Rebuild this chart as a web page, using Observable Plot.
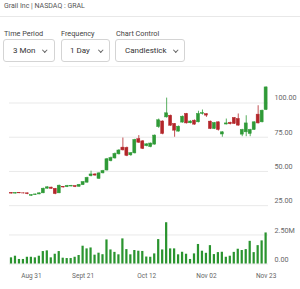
<!DOCTYPE html>
<html><head><meta charset="utf-8">
<script src="https://cdn.jsdelivr.net/npm/d3@7"></script>
<script src="https://cdn.jsdelivr.net/npm/@observablehq/plot@0.6"></script>
<style>
body{margin:0;width:300px;height:289px;overflow:hidden;background:#fff;font-family:Roboto,"Noto Sans",sans-serif;position:relative}
.title{position:absolute;left:4px;top:2px;font-size:7px;color:#555;white-space:nowrap}
.sep{position:absolute;left:0;top:16px;width:300px;border-top:1px solid #e8e8e8}
.sep2{position:absolute;left:9px;top:66px;width:291px;border-top:1px solid #f2f2f2}
.lbl{position:absolute;top:29px;font-size:7.3px;color:#444;white-space:nowrap}
.box{position:absolute;top:39px;height:23px;border:1px solid #d4d4d4;border-radius:3px;box-sizing:border-box;font-size:8px;color:#333;line-height:21px;white-space:nowrap}
.box span.t{position:absolute;top:0}
.chev{position:absolute;top:8px;width:2.5px;height:2.5px;border-right:1px solid #666;border-bottom:1px solid #666;transform:rotate(45deg)}
#price{position:absolute;left:0;top:70px}
#vol{position:absolute;left:0;top:215px}
</style></head>
<body>
<div class="title">Grail Inc | NASDAQ : GRAL</div>
<div class="sep"></div>
<div class="lbl" style="left:4px">Time Period</div>
<div class="lbl" style="left:61px">Frequency</div>
<div class="lbl" style="left:116px">Chart Control</div>
<div class="box" style="left:3px;width:52px"><span class="t" style="left:9px">3 Mon</span><span class="chev" style="left:39px"></span></div>
<div class="box" style="left:61px;width:49px"><span class="t" style="left:8px">1 Day</span><span class="chev" style="left:37px"></span></div>
<div class="box" style="left:115px;width:70px"><span class="t" style="left:9px">Candlestick</span><span class="chev" style="left:58px"></span></div>
<div class="sep2"></div>
<div id="price"></div>
<div id="vol"></div>
<script>
// Daily OHLC (USD) and volume (millions), trading days Aug 22 – Nov 21
const open  = [34.3,33.8,34.2,34.0,34.0,32.2,32.7,33.2,34.0,37.4,38.2,37.3,34.0,38.8,38.5,39.0,39.3,38.8,40.0,41.8,46.5,47.8,44.6,48.6,50.7,57.5,59.5,62.5,67.4,67.2,61.8,63.2,73.6,72.0,68.5,67.8,69.6,82.4,86.5,89.5,90.7,84.7,79.1,85.7,92.0,85.2,87.1,85.9,92.0,91.8,86.4,81.0,85.9,77.0,84.3,85.5,89.0,88.3,76.9,78.6,77.4,80.3,91.5,85.9,94.9];
const close = [33.8,34.2,34.0,33.9,33.4,32.7,33.2,34.0,37.4,38.4,37.3,33.5,39.6,38.3,39.4,39.5,38.6,40.2,42.2,45.3,47.8,47.0,48.6,50.3,58.9,59.8,62.8,65.3,65.4,61.4,63.3,73.0,71.0,66.5,69.8,70.4,76.2,87.4,77.4,92.5,83.4,79.8,82.7,90.0,85.1,86.5,84.2,92.0,92.6,90.8,81.0,85.4,80.3,78.6,85.1,84.5,84.7,83.5,80.3,85.1,80.3,85.9,85.1,94.4,111.4];
const high  = [34.5,34.5,34.4,34.3,34.2,33.0,33.4,34.3,37.8,38.9,38.5,37.6,40.0,39.0,39.8,39.8,39.6,40.5,42.6,45.8,50.2,48.3,49.0,50.8,59.5,60.5,63.5,66.0,74.4,67.8,63.8,73.5,76.2,72.5,70.3,70.8,76.7,88.3,87.0,103.6,91.2,85.0,83.2,90.5,92.4,87.0,87.6,94.0,94.9,92.2,86.8,85.8,86.2,79.0,88.3,86.0,89.4,92.0,80.8,90.7,80.8,86.3,98.0,94.8,111.8];
const low   = [33.6,33.6,33.8,33.6,33.0,31.8,32.5,33.0,33.8,37.0,37.0,33.0,33.8,37.8,38.2,38.7,38.2,38.5,39.7,41.5,46.0,46.5,44.2,48.2,50.3,57.0,59.0,62.0,65.0,60.8,61.0,62.8,70.5,66.0,68.0,67.3,69.2,81.5,76.8,89.0,83.0,75.0,78.8,85.3,84.7,84.8,83.8,85.5,91.2,89.5,80.6,80.6,79.5,75.0,84.0,84.0,84.3,83.0,75.4,75.4,75.4,80.0,84.7,85.5,94.5];
const volume= [0.53,0.67,0.39,0.39,0.58,0.58,0.53,0.67,1.07,1.13,0.53,0.84,1.07,0.50,0.47,0.47,0.58,0.73,1.53,1.30,1.38,0.76,0.93,0.80,2.07,1.21,1.00,0.79,2.16,1.24,0.79,1.16,1.10,1.08,0.60,0.58,0.87,2.10,1.21,3.55,1.30,1.30,0.79,1.01,0.84,0.39,0.87,1.68,1.10,0.92,1.58,0.81,0.98,1.01,0.58,0.67,1.00,1.27,1.16,1.24,1.95,0.98,1.58,1.99,2.67];
const priceTicks = [25, 50, 75, 100];
const volTicks = [0, 2.5];
const volTickLabels = ["0.00", "2.50M"];
const dayTicks = [5, 18, 34, 49, 64];
const dayTickLabels = ["Aug 31", "Sept 21", "Oct 12", "Nov 02", "Nov 23"];

const candles = open.map((o, i) => ({i, o, c: close[i], h: high[i], l: low[i], v: volume[i]}));
const UP = "#2f9a37", DOWN = "#b3262a", VOL = "#2a942f", GRID = "#e9e9e9", TXT = "#666";
const col = d => d.c >= d.o ? UP : DOWN;
const xDom = [-0.5, 64.6];

const price = Plot.plot({
  width: 300, height: 150, marginTop: 12, marginBottom: 8, marginLeft: 9, marginRight: 32,
  style: {background: "transparent", fontFamily: "Roboto, sans-serif"},
  x: {domain: xDom, axis: null, label: null},
  y: {domain: [20, 115], axis: null, label: null},
  marks: [
    Plot.ruleY(priceTicks, {stroke: GRID}),
    Plot.axisY({anchor: "right", ticks: priceTicks, tickSize: 0, tickPadding: 6, dy: -5, label: null,
      tickFormat: d => d.toFixed(2), fontSize: 7.2, fill: TXT}),
    Plot.ruleX(candles, {x: "i", y1: "l", y2: "h", stroke: col, strokeWidth: 0.8}),
    Plot.rect(candles, {x1: d => d.i - 0.38, x2: d => d.i + 0.38, y1: "o", y2: "c", fill: col, stroke: col, strokeWidth: 0.5})
  ]
});
document.getElementById("price").append(price);

const vol = Plot.plot({
  width: 300, height: 74, marginTop: 2, marginBottom: 25.5, marginLeft: 9, marginRight: 32,
  style: {background: "transparent", fontFamily: "Roboto, sans-serif"},
  x: {domain: xDom, axis: null, label: null},
  y: {domain: [0, 4], axis: null, label: null},
  marks: [
    Plot.ruleY(volTicks, {stroke: GRID}),
    Plot.axisY({anchor: "right", ticks: volTicks, tickSize: 0, tickPadding: 6, dy: -4, label: null,
      tickFormat: d => volTickLabels[volTicks.indexOf(d)], fontSize: 7.2, fill: TXT}),
    Plot.rect(candles, {x1: d => d.i - 0.28, x2: d => d.i + 0.28, y1: 0, y2: "v", fill: VOL}),
    Plot.axisX({ticks: dayTicks, tickSize: 0, tickPadding: 9, label: null,
      tickFormat: d => dayTickLabels[dayTicks.indexOf(d)], fontSize: 6.5, fill: TXT})
  ]
});
document.getElementById("vol").append(vol);
</script>
</body></html>
